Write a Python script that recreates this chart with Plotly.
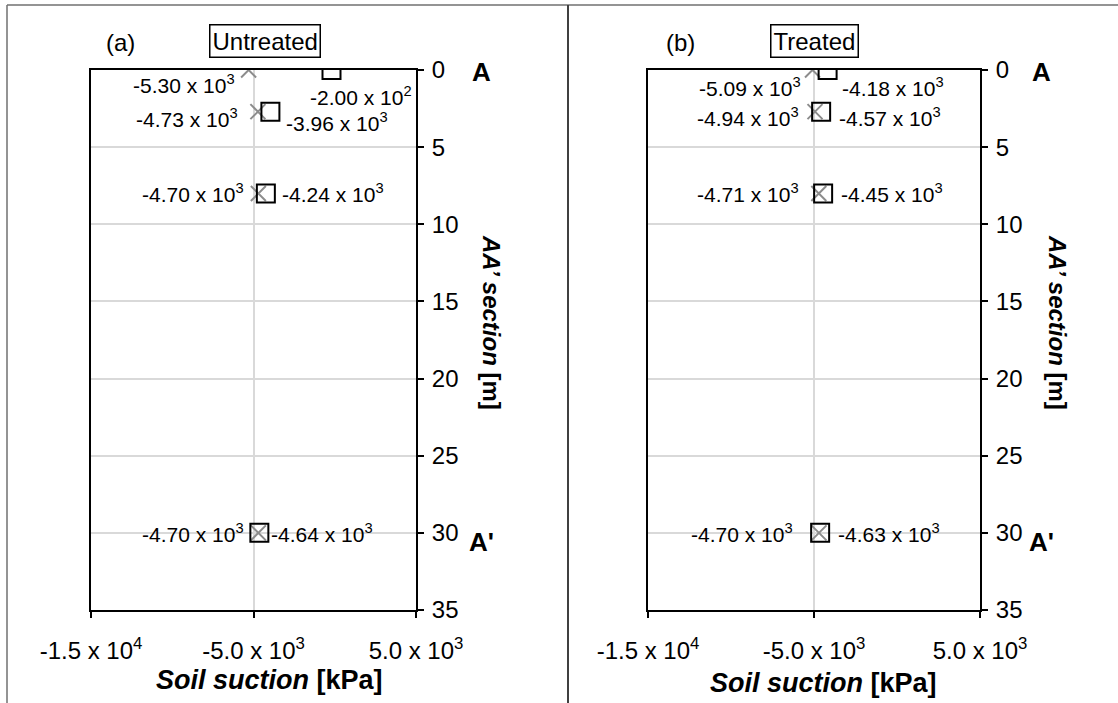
import math
import plotly.graph_objects as go

# ---- data ----
depths = [0, 2.7, 8, 30]
untreated_x = [-5300, -4730, -4700, -4700]
untreated_sq = [-200, -3960, -4240, -4640]
treated_x = [-5090, -4940, -4710, -4700]
treated_sq = [-4180, -4570, -4450, -4630]
x_tickvals = [-15000, -5000, 5000]
x_ticktext = ["-1.5 x 10<sup>4</sup>", "-5.0 x 10<sup>3</sup>", "5.0 x 10<sup>3</sup>"]
y_tickvals = [0, 5, 10, 15, 20, 25, 30, 35]
panel_titles = ["(a)", "(b)"]
panel_names = ["Untreated", "Treated"]

FONT = "Liberation Sans, Arial, sans-serif"
W, H = 1118, 703


def sci(v):
    e = int(math.floor(math.log10(abs(v))))
    m = v / 10 ** e
    return f"{m:.2f} x 10<sup>{e}</sup>"


# label offsets (pixels) per row: (xshift, yshift, xanchor)
x_lab_a = [(-12, -14, "right"), (-18, -6, "right"), (-12, 0, "right"), (-12, 0, "right")]
sq_lab_a = [(-24, -26, "left"), (14, -10, "left"), (14, 0, "left"), (10, 0, "left")]
x_lab_b = [(-10, -17, "right"), (-14, -5, "right"), (-18, 0, "right"), (-24, 0, "right")]
sq_lab_b = [(12, -17, "left"), (16, -5, "left"), (16, 0, "left"), (16, 0, "left")]

fig = go.Figure()

panels = [
    dict(xs=untreated_x, sqs=untreated_sq, xl=x_lab_a, sl=sq_lab_a, xa="x", ya="y",
         dom=[91 / W, 416 / W], letter=120, name=265, A=481, ytit=492, xtit=(269, 680)),
    dict(xs=treated_x, sqs=treated_sq, xl=x_lab_b, sl=sq_lab_b, xa="x2", ya="y2",
         dom=[648 / W, 980 / W], letter=680, name=814, A=1041, ytit=1058, xtit=(823, 683)),
]
ydom = [1 - 610 / H, 1 - 70 / H]

annotations = []


def paper_ann(x, y, text, size, **kw):
    d = dict(x=x / W, y=1 - y / H, xref="paper", yref="paper", text=text, showarrow=False,
             xanchor="center", yanchor="middle", font=dict(family=FONT, size=size, color="black"))
    d.update(kw)
    return d


for i, p in enumerate(panels):
    fig.add_trace(go.Scatter(
        x=p["xs"], y=depths, mode="markers", xaxis=p["xa"], yaxis=p["ya"],
        marker=dict(symbol="x-thin", size=15, line=dict(width=2, color="#8c8c8c"), color="#8c8c8c"),
        showlegend=False, hoverinfo="skip"))
    fig.add_trace(go.Scatter(
        x=p["sqs"], y=depths, mode="markers", xaxis=p["xa"], yaxis=p["ya"],
        marker=dict(symbol="square-open", size=18, line=dict(width=2, color="black"), color="black"),
        showlegend=False, hoverinfo="skip"))
    for j, d in enumerate(depths):
        for vals, offs in ((p["xs"], p["xl"]), (p["sqs"], p["sl"])):
            xs_, ys_, anc = offs[j]
            annotations.append(dict(
                x=vals[j], y=d, xref=p["xa"], yref=p["ya"], text=sci(vals[j]),
                showarrow=False, xanchor=anc, yanchor="middle", xshift=xs_, yshift=ys_,
                font=dict(family=FONT, size=21, color="black")))

    annotations.append(paper_ann(p["letter"], 42, panel_titles[i], 24))
    annotations.append(paper_ann(p["name"], 41, panel_names[i], 24, bordercolor="black",
                                 borderwidth=1.5, borderpad=2, bgcolor="white"))
    annotations.append(dict(x=p["A"] / W, y=0, xref="paper", yref=p["ya"], text="<b>A</b>",
                            showarrow=False, xanchor="center", yanchor="middle", yshift=-2,
                            font=dict(family=FONT, size=26, color="black")))
    annotations.append(dict(x=p["A"] / W, y=30, xref="paper", yref=p["ya"], text="<b>A'</b>",
                            showarrow=False, xanchor="center", yanchor="middle", yshift=-9,
                            font=dict(family=FONT, size=26, color="black")))
    annotations.append(paper_ann(p["ytit"], 322, "<b><i>AA’ section</i> [m]</b>", 24, textangle=90))
    annotations.append(paper_ann(p["xtit"][0], p["xtit"][1], "<b><i>Soil suction</i> [kPa]</b>", 27))

axis_common = dict(showline=True, linecolor="black", linewidth=2, mirror=True,
                   ticks="outside", ticklen=6, tickwidth=2, tickcolor="black",
                   showgrid=True, gridcolor="#d9d9d9", gridwidth=2, zeroline=False,
                   automargin=False,
                   tickfont=dict(family=FONT, size=24, color="black"))

layout = dict(
    template="none",
    width=W, height=H, margin=dict(l=0, r=0, t=0, b=0, pad=0), autosize=False,
    paper_bgcolor="white", plot_bgcolor="white", annotations=annotations,
    shapes=[
        dict(type="line", xref="paper", yref="paper", x0=7 / W, x1=1, y0=1 - 5 / H, y1=1 - 5 / H,
             line=dict(color="#707070", width=1.5)),
        dict(type="line", xref="paper", yref="paper", x0=7 / W, x1=7 / W, y0=0, y1=1 - 5 / H,
             line=dict(color="#707070", width=1.5)),
        dict(type="line", xref="paper", yref="paper", x0=568 / W, x1=568 / W, y0=0, y1=1 - 5 / H,
             line=dict(color="#404040", width=2)),
    ],
)
for i, p in enumerate(panels):
    sfx = "" if i == 0 else str(i + 1)
    layout["xaxis" + sfx] = dict(axis_common, domain=p["dom"], range=[-15000, 5000],
                                 tickvals=x_tickvals, ticktext=x_ticktext, anchor="y" + sfx,
                                 side="bottom", ticklabelstandoff=12)
    layout["yaxis" + sfx] = dict(axis_common, domain=ydom, range=[35, 0],
                                 tickvals=y_tickvals, anchor="x" + sfx, side="right",
                                 ticklabelstandoff=3)

fig.update_layout(**layout)
fig.write_html("out.html", config={"displayModeBar": False},
               post_script="document.body.style.margin='0px';document.body.style.padding='0px';")
